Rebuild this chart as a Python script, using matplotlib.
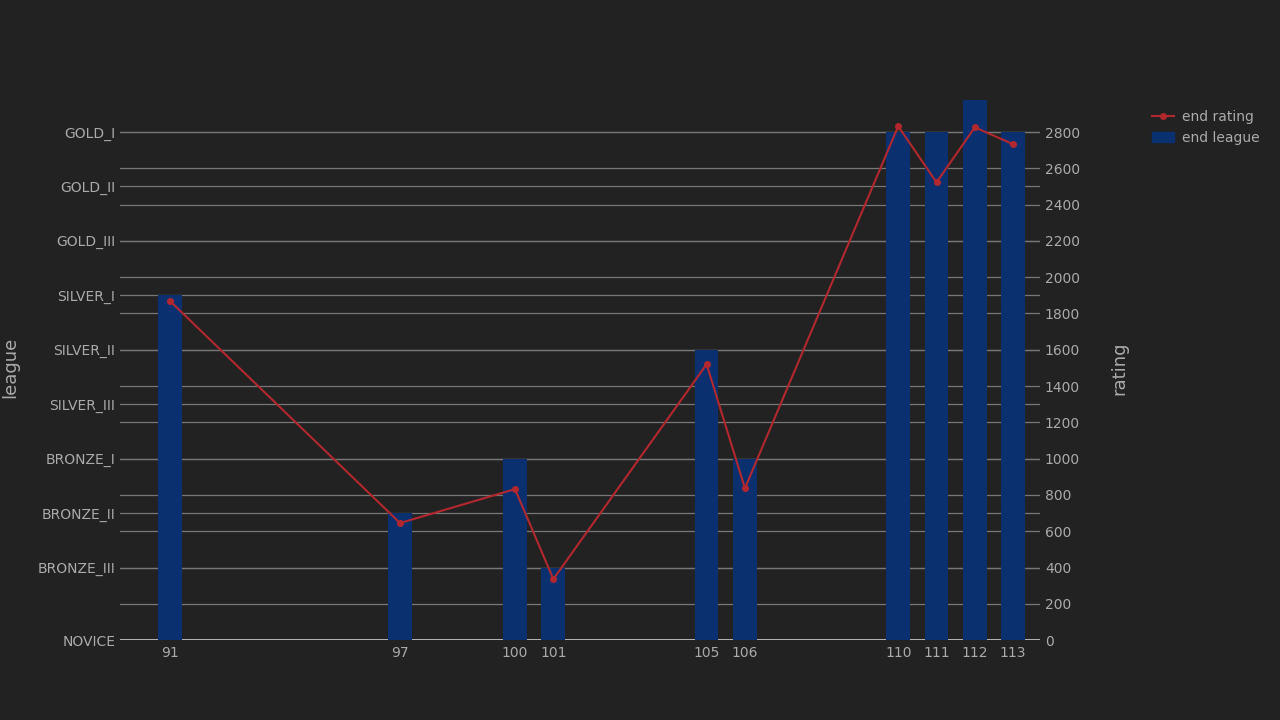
import matplotlib
matplotlib.use("Agg")
import matplotlib.pyplot as plt
from matplotlib.lines import Line2D
from matplotlib.patches import Patch

# league categories and the rating level each one sits at
leagues = ['NOVICE', 'BRONZE_III', 'BRONZE_II', 'BRONZE_I', 'SILVER_III',
           'SILVER_II', 'SILVER_I', 'GOLD_III', 'GOLD_II', 'GOLD_I', '']
league_levels = [0, 400, 700, 1000, 1300, 1600, 1900, 2200, 2500, 2800, 2975]

seasons = [91, 97, 100, 101, 105, 106, 110, 111, 112, 113]
end_league = ['SILVER_I', 'BRONZE_II', 'BRONZE_I', 'BRONZE_III', 'SILVER_II',
              'BRONZE_I', 'GOLD_I', 'GOLD_I', '', 'GOLD_I']
end_rating = [1868, 645, 832, 336, 1520, 837, 2832, 2523, 2826, 2733]

bg = '#222222'
txt = '#aaaaaa'
grid = '#777777'

fig = plt.figure(figsize=(12.8, 7.2), dpi=100, facecolor=bg)
ax = fig.add_axes([0.094, 0.111, 0.7185, 0.756], facecolor=bg)
ax2 = ax.twinx()

bar_heights = [league_levels[leagues.index(l)] for l in end_league]
ax.bar(seasons, bar_heights, width=0.62, color='#0b3070', zorder=2)
ax2.plot(seasons, end_rating, color='#b2282e', marker='o', markersize=4,
         linewidth=1.5, zorder=3)

ax.set_xlim(89.7, 113.7)
ax.set_ylim(0, 3000)
ax2.set_ylim(0, 3000)
ax.set_xticks(seasons)
ax.set_yticks(league_levels[:-1])
ax.set_yticklabels(leagues[:-1])
ax2.set_yticks(range(0, 3000, 200))

for a in (ax, ax2):
    for s in a.spines.values():
        s.set_visible(False)
    a.tick_params(colors=txt, labelcolor=txt, length=0, labelsize=10)
ax.tick_params(axis='x', pad=4)
ax.set_axisbelow(True)
for v in league_levels[:-1]:
    ax.axhline(v, color=grid, linewidth=0.9, zorder=0)
for v in range(0, 3000, 200):
    ax.axhline(v, color=grid, linewidth=0.9, zorder=0)
ax.axhline(0, color='#cccccc', linewidth=1.2, zorder=1)

fig.text(0.008, 0.49, 'league', color=txt, fontsize=13, rotation=90,
         ha='center', va='center')
ax2.set_ylabel('rating', color=txt, fontsize=13, labelpad=22)

handles = [Line2D([0], [0], color='#b2282e', marker='o', markersize=4),
           Patch(color='#0b3070')]
fig.legend(handles, ['end rating', 'end league'], loc='upper left',
           bbox_to_anchor=(0.89, 0.865), frameon=False, labelcolor=txt,
           fontsize=10, handlelength=1.6, handletextpad=0.6)

fig.savefig('out.png', dpi=100, facecolor=bg)
